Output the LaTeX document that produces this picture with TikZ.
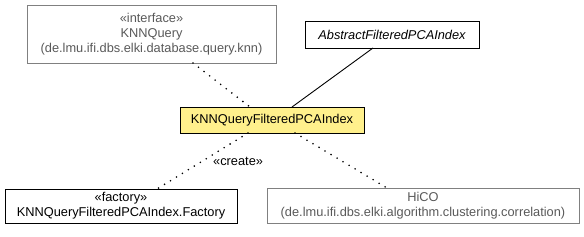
\documentclass[tikz,border=0pt]{standalone}
\usepackage{fontspec}
\setmainfont{Liberation Sans}
\begin{document}
\begin{tikzpicture}[x=1pt,y=-1pt,
  box/.style={draw=black,line width=0.9pt,inner sep=0pt,font=\fontsize{12.8}{14.8}\selectfont,align=center},
  graybox/.style={box,draw=black!50,text=black!65},
  dep/.style={line width=1.8pt,line cap=round,dash pattern=on 0pt off 7pt},
  gen/.style={line width=0.9pt}]
\useasboundingbox (0,0) rectangle (584,237);
\node[graybox,minimum width=249pt,minimum height=58pt] (knn) at (151.5,34) {«interface»\\KNNQuery\\(de.lmu.ifi.dbs.elki.database.query.knn)};
\node[box,minimum width=174pt,minimum height=27pt,font=\fontsize{12.8}{14.8}\selectfont\itshape] (abs) at (392,34.5) {AbstractFilteredPCAIndex};
\node[box,fill={rgb,255:red,255;green,240;blue,140},minimum width=184pt,minimum height=26pt] (main) at (272,120) {KNNQueryFilteredPCAIndex};
\node[box,minimum width=232pt,minimum height=34pt] (fac) at (121,206) {«factory»\\KNNQueryFilteredPCAIndex.Factory};
\node[graybox,minimum width=312pt,minimum height=35pt] (hico) at (423,205.5) {HiCO\\(de.lmu.ifi.dbs.elki.algorithm.clustering.correlation)};
\coordinate (knnA) at (193,63);
\coordinate (mainA) at (250,107);
\draw[dep] (knnA) -- (mainA);
\coordinate (absA) at (373,48);
\coordinate (mainB) at (292,107);
\draw[gen] (absA) -- (mainB);
\coordinate (mainC) at (248,133);
\coordinate (facA) at (157,189);
\draw[dep] (mainC) -- (facA);
\node[font=\fontsize{12.8}{14.8}\selectfont,anchor=west,inner sep=0pt] (lbl) at (213,161) {«create»};
\coordinate (mainD) at (295,133);
\coordinate (hicoA) at (387,188);
\draw[dep] (mainD) -- (hicoA);
\end{tikzpicture}
\end{document}
